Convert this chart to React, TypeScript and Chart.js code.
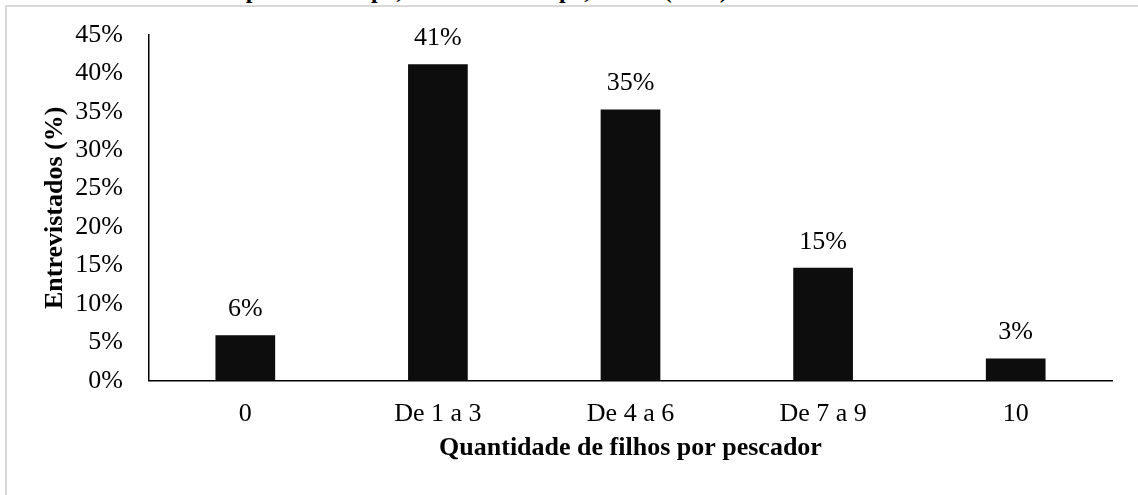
import React, { useEffect, useRef } from "react";
import { Chart, registerables } from "chart.js";

Chart.register(...registerables);

const categories = ["0", "De 1 a 3", "De 4 a 6", "De 7 a 9", "10"];
const values = [5.9, 41.2, 35.3, 14.7, 2.9];
const valueLabels = ["6%", "41%", "35%", "15%", "3%"];
const yTitle = "Entrevistados (%)";
const xTitle = "Quantidade de filhos por pescador";
const topCaption = "município de Macapá, estado do Amapá, Brasil (2017).";

const FONT = '"Liberation Serif", "Times New Roman", serif';
const FS = 26;

export default function App() {
  const ref = useRef<HTMLCanvasElement | null>(null);

  useEffect(() => {
    const canvas = ref.current;
    if (!canvas) return;

    const labelPlugin = {
      id: "barLabels",
      afterDatasetsDraw(chart: any) {
        const ctx = chart.ctx;
        const meta = chart.getDatasetMeta(0);
        ctx.save();
        ctx.font = `${FS}px ${FONT}`;
        ctx.fillStyle = "#000";
        ctx.textAlign = "center";
        ctx.textBaseline = "middle";
        meta.data.forEach((el: any, i: number) => {
          ctx.fillText(valueLabels[i], el.x, el.y - 26);
        });
        ctx.restore();
      },
    };

    const chart = new Chart(canvas, {
      type: "bar",
      data: {
        labels: categories,
        datasets: [
          {
            data: values,
            backgroundColor: "#0d0d0d",
            borderWidth: 0,
            barPercentage: 0.31,
            categoryPercentage: 1,
          },
        ],
      },
      options: {
        responsive: false,
        animation: false,
        layout: { padding: { left: 0, right: 26, top: 35, bottom: 0 } },
        plugins: {
          legend: { display: false },
          tooltip: { enabled: false },
          title: { display: false },
        },
        scales: {
          x: {
            type: "category",
            offset: true,
            grid: { display: false, drawTicks: false },
            border: { color: "#000", width: 1.5 },
            ticks: {
              color: "#000",
              font: { family: FONT, size: FS },
              padding: 18,
              maxRotation: 0,
            },
            title: {
              display: true,
              text: xTitle,
              color: "#000",
              font: { family: FONT, size: FS, weight: "bold" },
              padding: { top: 0, bottom: 31.4 },
            },
            afterFit(scale: any) {
              scale.height = 114.3;
              scale.paddingLeft = 0;
              scale.paddingRight = 0;
            },
          },
          y: {
            min: 0,
            max: 45,
            grid: { display: false, drawTicks: false },
            border: { color: "#000", width: 1.5 },
            ticks: {
              stepSize: 5,
              color: "#000",
              font: { family: FONT, size: FS },
              padding: 26,
              callback: (v: any) => `${v}%`,
            },
            title: {
              display: true,
              text: yTitle,
              color: "#000",
              font: { family: FONT, size: FS, weight: "bold" },
              padding: { top: 39.4, bottom: 0 },
            },
            afterFit(scale: any) {
              scale.width = 149;
              scale.paddingTop = 0;
              scale.paddingBottom = 0;
            },
          },
        },
      },
      plugins: [labelPlugin],
    });

    return () => chart.destroy();
  }, []);

  return (
    <div
      style={{
        position: "fixed",
        left: 0,
        top: 0,
        width: 1138,
        height: 495,
        background: "#fff",
        overflow: "hidden",
      }}
    >
      <div
        style={{
          position: "absolute",
          left: 0,
          top: 0,
          width: 1138,
          height: 5,
          overflow: "hidden",
        }}
      >
        <div
          style={{
            position: "absolute",
            left: 175,
            top: -22,
            whiteSpace: "nowrap",
            fontFamily: FONT,
            fontWeight: "bold",
            fontSize: 24,
            lineHeight: "24px",
            color: "#000",
          }}
        >
          {topCaption}
        </div>
      </div>
      <div
        style={{
          position: "absolute",
          left: 5,
          top: 5,
          width: 1200,
          height: 600,
          borderLeft: "2px solid #d9d9d9",
          borderTop: "2px solid #d9d9d9",
        }}
      />
      <canvas
        ref={ref}
        width={1138}
        height={495}
        style={{ position: "absolute", left: 0, top: 0, width: 1138, height: 495 }}
      />
    </div>
  );
}
